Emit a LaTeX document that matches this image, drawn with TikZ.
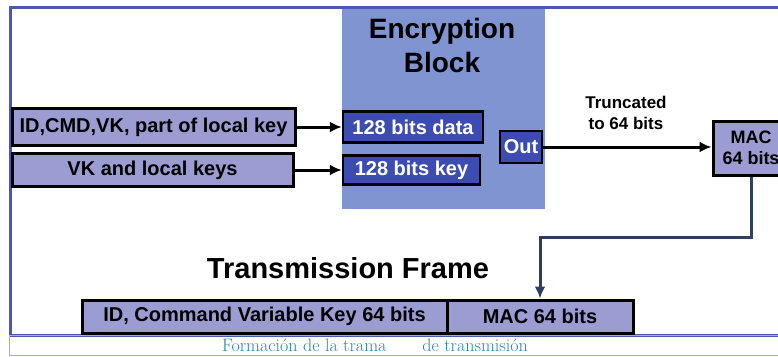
\documentclass[tikz,border=0pt]{standalone}
\usepackage{fontspec}
\setsansfont{Liberation Sans}
\usetikzlibrary{arrows.meta}
\definecolor{bleucadre}{HTML}{4A58B5}
\definecolor{bleubloc}{HTML}{8094D2}
\definecolor{lavande}{HTML}{9A9CD2}
\definecolor{bleufonce}{HTML}{3C4CB0}
\definecolor{ardoise}{HTML}{2F3F5E}
\definecolor{legende}{HTML}{2484B4}
\definecolor{grisbleu}{HTML}{A4ACCB}
\begin{document}
\begin{tikzpicture}[x=1pt,y=-1pt]
% Styles
\tikzstyle{fleche}=[->,>={Latex[length=12pt,width=11pt]},line width=3pt]
\tikzstyle{retour}=[->,>={Latex[length=12pt,width=11pt]},line width=3pt,draw=ardoise]
\tikzstyle{boite}=[draw=black,line width=3pt,fill=lavande,inner sep=0pt,font=\sffamily\bfseries\fontsize{20}{22}\selectfont]
\tikzstyle{registre}=[draw=black,line width=2.5pt,fill=bleufonce,text=white,inner sep=0pt,font=\sffamily\bfseries\fontsize{20}{22}\selectfont]
\tikzstyle{bloc}=[fill=bleubloc,inner sep=0pt]
\tikzstyle{titre}=[font=\sffamily\bfseries\fontsize{28}{34}\selectfont,align=center]
\tikzstyle{etiquette}=[font=\sffamily\bfseries\fontsize{17}{21}\selectfont,align=center]
% Dimensions
\def\LargeurPage{778}
\def\HauteurPage{356}
\useasboundingbox (0,0) rectangle (\LargeurPage,\HauteurPage);
\clip (0,0) rectangle (\LargeurPage,\HauteurPage);
% Bloc de chiffrement
\node[bloc,minimum width=203,minimum height=202] (Bloc) at (443.5,108) {};
\node[titre] (TitreBloc) at (442,45) {Encryption\\Block};
% Cadre
\draw[bleucadre,line width=3pt] (10,7) rectangle (800,335);
\draw[grisbleu,line width=1pt] (9,335) rectangle (800,355);
% Noeuds
\node[boite,minimum width=283,minimum height=37] (Entree) at (153.5,127) {ID,CMD,VK, part of local key};
\node[boite,minimum width=281,minimum height=33] (Cles) at (152.5,170) {VK and local keys};
\node[registre,minimum width=140,minimum height=31] (Donnees) at (413,127) {128 bits data};
\node[registre,minimum width=137,minimum height=29] (Cle) at (411.5,170) {128 bits key};
\node[registre,minimum width=42,minimum height=32] (Sortie) at (521,147) {Out};
\node[boite,minimum width=76,minimum height=54,align=center,font=\sffamily\bfseries\fontsize{18}{21}\selectfont] (Mac) at (751,148) {MAC\\64 bits};
\node[etiquette] (Tronque) at (626,113) {Truncated\\to 64 bits};
\node[titre,font=\sffamily\bfseries\fontsize{29}{34}\selectfont] (TitreTrame) at (348,268) {Transmission Frame};
\node[boite,minimum width=365,minimum height=33] (Trame) at (264.5,316.5) {ID, Command Variable Key 64 bits};
\node[boite,minimum width=186,minimum height=33] (TrameMac) at (540,316.5) {MAC 64 bits};
\node[text=legende,font=\fontsize{18}{20}\selectfont] (Legende) at (375,345) {Formación de la trama\hspace{2em}de transmisión};
% Arcs
\draw[fleche] (Entree)--(Donnees);
\draw[fleche] (Cles)--(Cle);
\draw[fleche] (Sortie)--(Mac.west|-Sortie);
\draw[retour] (Mac.south)--++(0,61)-|(TrameMac.north);
\end{tikzpicture}
\end{document}
